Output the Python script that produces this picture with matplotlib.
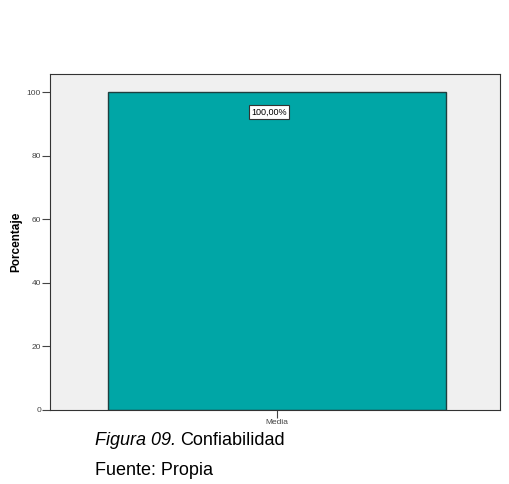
import matplotlib
matplotlib.use("Agg")
import matplotlib.pyplot as plt

categories = ["Media"]
values = [100.0]
labels = ["100,00%"]
yticks = [0, 20, 40, 60, 80, 100]

fig = plt.figure(figsize=(5.10, 4.84), dpi=100)
ax = fig.add_axes([0.098, 0.153, 0.882, 0.694])
ax.set_facecolor("#f0f0f0")
bars = ax.bar(range(len(categories)), values, width=0.753, color="#00a6a6",
              edgecolor="#1f3f3f", linewidth=1.0)
ax.set_xlim(-0.505, 0.495)
ax.set_ylim(0, 105.7)
ax.set_yticks(yticks)
ax.set_yticklabels([str(t) for t in yticks], fontsize=6, color="#444444",
                   family="Liberation Sans")
ax.set_xticks(range(len(categories)))
ax.set_xticklabels(categories, fontsize=6, color="#444444", family="Liberation Sans")
ax.tick_params(axis="both", length=5.5, width=0.8, color="#444444", pad=1)
for s in ax.spines.values():
    s.set_color("#333333")
    s.set_linewidth(0.8)
ax.set_ylabel("Porcentaje", fontsize=8.5, fontweight="bold",
              family="Liberation Sans", labelpad=3)
for i, (v, lab) in enumerate(zip(values, labels)):
    ax.annotate(lab, (i, v), xytext=(-6, -14.4), textcoords="offset points",
                ha="center", va="center", fontsize=6.5, family="Liberation Sans",
                bbox=dict(boxstyle="square,pad=0.25", fc="white", ec="#333333", lw=0.8))

t1 = fig.text(0.186, 0.089, "Figura 09.", fontsize=13, style="italic",
              family="Liberation Sans", va="center")
fig.canvas.draw()
bb = t1.get_window_extent(renderer=fig.canvas.get_renderer())
x2 = (bb.x1 + 4) / fig.bbox.width
fig.text(x2, 0.089, "Confiabilidad", fontsize=13, family="Liberation Sans", va="center")
fig.text(0.186, 0.027, "Fuente: Propia", fontsize=13, family="Liberation Sans", va="center")

fig.savefig("out.png", dpi=100)
